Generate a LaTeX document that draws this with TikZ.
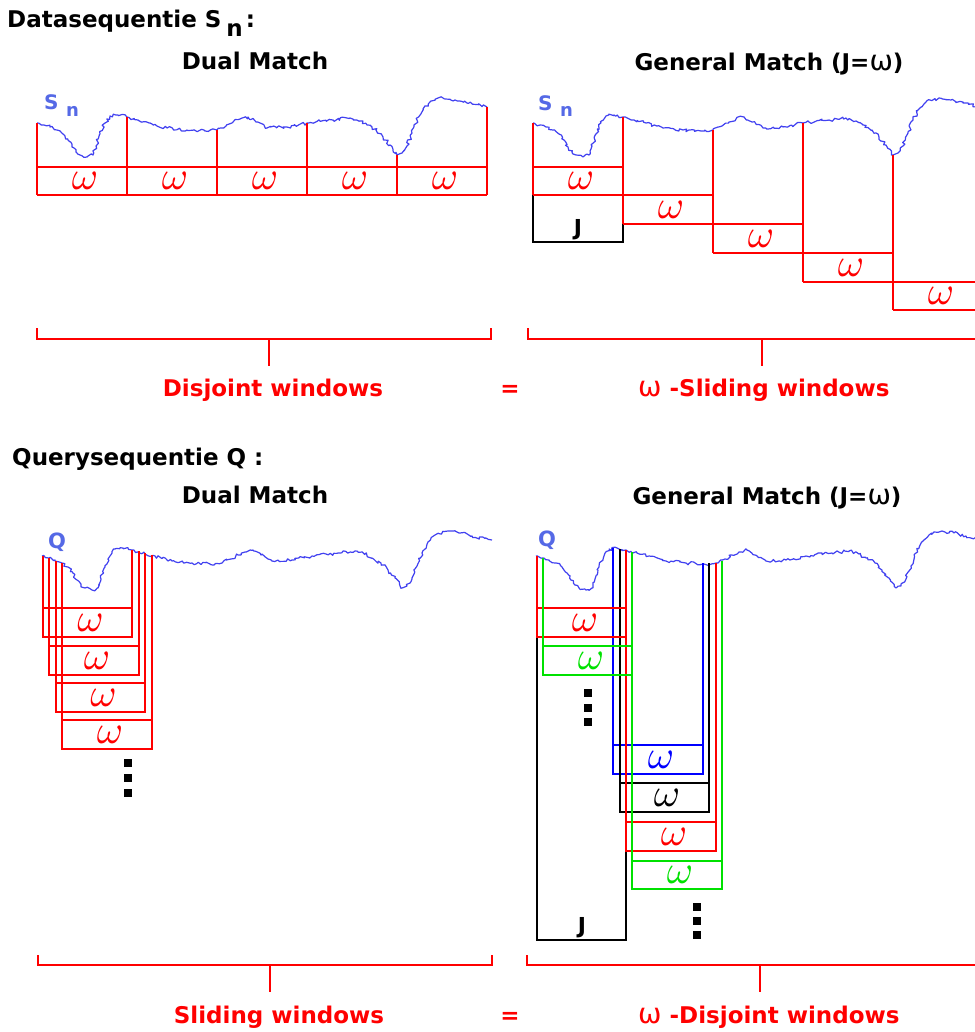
\documentclass[tikz,border=0pt]{standalone}
\usepackage{fontspec}
\setmainfont{DejaVu Sans}
\newfontfamily\omfont{DejaVu Sans}
\usetikzlibrary{decorations.pathmorphing}
\definecolor{wred}{RGB}{255,0,0}
\definecolor{wgreen}{RGB}{0,225,0}
\definecolor{wblue}{RGB}{0,0,255}
\definecolor{curveblue}{RGB}{65,65,240}
\definecolor{lblblue}{RGB}{85,105,230}
\newcommand\drawwave[1]{\draw[wave,#1] (37,123) -- (44,125) -- (50,127) -- (57,130) -- (63,134) -- (68,140) -- (72,147) -- (76,152) -- (80,155) -- (87,157) -- (93,155) -- (96,146) -- (100,134) -- (105,123) -- (110,116) -- (118,115) -- (127,117) -- (138,120) -- (150,123) -- (167,128) -- (187,130) -- (205,131) -- (217,130) -- (226,126) -- (233,122) -- (240,119) -- (248,117) -- (256,122) -- (267,128) -- (287,127) -- (307,123) -- (333,120) -- (350,118) -- (360,121) -- (367,125) -- (376,130) -- (383,137) -- (390,145) -- (397,155) -- (402,153) -- (407,146) -- (412,133) -- (417,120) -- (423,109) -- (430,102) -- (443,98) -- (455,100) -- (467,103) -- (487,107);}
\newcommand\bigom{\scalebox{4}{$\omega$}}
\newcommand\lblom{{\mdseries\omfont\fontsize{28}{28}\selectfont ω}}
\tikzset{
 wave/.style={curveblue, line width=1.2pt, line join=round, decorate, decoration={random steps, segment length=2.2pt, amplitude=1.7pt}},
 rl/.style={wred, line width=1.2pt},
 gl/.style={wgreen, line width=1.2pt},
 bl/.style={wblue, line width=1.2pt},
 kl/.style={black, line width=1.2pt},
 brk/.style={wred, line width=2.6pt},
 om/.style={font=\fontsize{10}{10}\selectfont, inner sep=0pt},
 ttl/.style={font=\fontsize{23}{27}\selectfont\bfseries, inner sep=0pt, anchor=base},
 lbl/.style={font=\fontsize{23}{27}\selectfont\bfseries, text=wred, inner sep=0pt, anchor=base},
 seql/.style={font=\fontsize{20}{22}\selectfont\bfseries, text=lblblue, inner sep=0pt, anchor=base west},
 jl/.style={font=\fontsize{22}{24}\selectfont\bfseries, inner sep=0pt, anchor=base},
 dotsq/.style={fill=black},
}
\begin{document}
\begin{tikzpicture}[x=1pt,y=-1pt]
\useasboundingbox[fill=white] (0,0) rectangle (974,1032);
\pgfmathsetseed{7}
% ---------------- titles
\node[ttl, anchor=base west] (t1) at (7,28) {Datasequentie S\hspace{5pt}\raisebox{-9pt}{n}\hspace{3pt}:};
\node[ttl] (t2) at (255,70) {Dual Match};
\node[ttl] (t3) at (769,71) {General Match (J=\lblom)};
\node[ttl, anchor=base west] (t4) at (12,465) {Querysequentie Q :};
\node[ttl] (t5) at (255,503) {Dual Match};
\node[ttl] (t6) at (767,504) {General Match (J=\lblom)};
% ---------------- waves
\drawwave{}
\drawwave{shift={(496,0)}}
\drawwave{shift={(5,433)}}
\drawwave{shift={(499,433)}}
\node[seql] (s1) at (44,110) {S};
\node[seql, font=\fontsize{18}{20}\selectfont\bfseries] (n1) at (66,117) {n};
\node[seql] (s2) at (538,111) {S};
\node[seql, font=\fontsize{18}{20}\selectfont\bfseries] (n2) at (560,117) {n};
\node[seql, font=\fontsize{21}{23}\selectfont\bfseries] (q1) at (48,548) {Q};
\node[seql, font=\fontsize{21}{23}\selectfont\bfseries] (q2) at (538,546) {Q};
% ---------------- top-left: disjoint windows
\foreach \x/\y in {37/123,127/117,217/130,307/123,397/155,487/107}
  \draw[rl] (\x,\y) -- (\x,195);
\draw[rl] (37,167) -- (487,167);
\draw[rl] (37,195) -- (487,195);
\foreach \c [count=\i] in {82,172,262,352,442}
  \node[om,text=wred] (tlw\i) at (\c+3,181) {\bigom};
% ---------------- top-right: sliding windows
\draw[kl] (533,195) -- (533,242) -- (623,242) -- (623,224);
\node[jl] (j1) at (578,236) {J};
\draw[rl] (533,123) -- (533,195);
\draw[rl] (623,117) -- (623,224);
\draw[rl] (713,130) -- (713,253);
\draw[rl] (803,123) -- (803,282);
\draw[rl] (893,155) -- (893,310);
\draw[rl] (533,167) -- (623,167);
\draw[rl] (533,195) -- (713,195);
\draw[rl] (623,224) -- (803,224);
\draw[rl] (713,253) -- (893,253);
\draw[rl] (803,282) -- (990,282);
\draw[rl] (893,310) -- (990,310);
\node[om,text=wred] (trw1) at (581,181) {\bigom};
\node[om,text=wred] (trw2) at (671,209.5) {\bigom};
\node[om,text=wred] (trw3) at (761,238.5) {\bigom};
\node[om,text=wred] (trw4) at (851,267.5) {\bigom};
\node[om,text=wred] (trw5) at (941,296) {\bigom};
% ---------------- top brackets
\draw[brk] (37,328) -- (37,339) -- (491,339) -- (491,328);
\draw[brk] (269,339) -- (269,366);
\draw[brk] (528,328) -- (528,339) -- (990,339);
\draw[brk] (762,339) -- (762,366);
\node[lbl] (l1) at (273,396) {Disjoint windows};
\node[lbl] (e1) at (510,396) {=};
\node[lbl, anchor=base west] (l2) at (638,396) {\lblom\ -Sliding windows};
% ---------------- bottom-left: sliding windows
\foreach \L/\R/\T/\Lt/\Rt [count=\i] in {43/132/608/556/550, 49/139/646/558/551, 56/145/683/561/553, 62/152/720/563/555}{
  \draw[rl] (\L,\Lt) -- (\L,\T+29) -- (\R,\T+29) -- (\R,\Rt);
  \draw[rl] (\L,\T) -- (\R,\T);
  \node[om,text=wred] (blw\i) at ({(\L+\R)/2+3},\T+14.5) {\bigom};
}
\foreach \y in {763,778,793} \fill[dotsq] (123.5,\y-4) rectangle ++(8,8);
% ---------------- bottom-right: disjoint windows
\draw[kl] (537,637) -- (537,940) -- (626,940) -- (626,851);
\node[jl] (j2) at (582,933) {J};
% blue
\draw[bl] (613,548) -- (613,774) -- (703,774) -- (703,563);
\draw[bl] (613,745) -- (703,745);
\node[om,text=wblue] (brb) at (661,759.5) {\bigom};
% black
\draw[kl] (620,549) -- (620,812) -- (709,812) -- (709,563);
\draw[kl] (620,783) -- (709,783);
\node[om,text=black] (brk1) at (667,797.5) {\bigom};
% red
\draw[rl] (537,556) -- (537,637) -- (626,637);
\draw[rl] (537,608) -- (626,608);
\draw[rl] (626,550) -- (626,851) -- (716,851) -- (716,563);
\draw[rl] (626,822) -- (716,822);
\node[om,text=wred] (brr1) at (585,622.5) {\bigom};
\node[om,text=wred] (brr2) at (674,836.5) {\bigom};
% green
\draw[gl] (543,558) -- (543,675) -- (632,675);
\draw[gl] (543,646) -- (632,646);
\draw[gl] (632,552) -- (632,889) -- (722,889) -- (722,561);
\draw[gl] (632,861) -- (722,861);
\node[om,text=wgreen] (brg1) at (591,660.5) {\bigom};
\node[om,text=wgreen] (brg2) at (680,875) {\bigom};
\foreach \y in {693,708,722} \fill[dotsq] (584,\y-4) rectangle ++(8,8);
\foreach \y in {907,921,935} \fill[dotsq] (693,\y-4) rectangle ++(8,8);
% ---------------- bottom brackets
\draw[brk] (38,955) -- (38,965) -- (492,965) -- (492,955);
\draw[brk] (270,965) -- (270,992);
\draw[brk] (527,955) -- (527,965) -- (990,965);
\draw[brk] (760,965) -- (760,992);
\node[lbl] (l3) at (279,1023) {Sliding windows};
\node[lbl] (e2) at (510,1023) {=};
\node[lbl, anchor=base west] (l4) at (638,1023) {\lblom\ -Disjoint windows};
\end{tikzpicture}
\end{document}
